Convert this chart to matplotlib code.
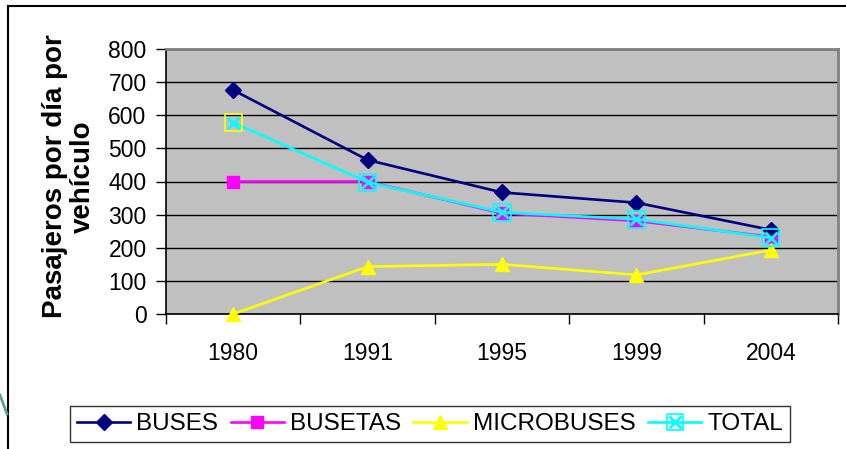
import matplotlib
matplotlib.use("Agg")
import matplotlib.pyplot as plt
from matplotlib.lines import Line2D
import numpy as np

plt.rcParams['font.family'] = ['Liberation Sans', 'DejaVu Sans']

years = ["1980", "1991", "1995", "1999", "2004"]
buses = [676, 465, 367, 336, 254]
busetas = [400, 400, 304, 281, 233]
microbuses = [0, 143, 150, 118, 193]
total = [578, 398, 307, 286, 230]
total_box_edges = ["#FFFF00", "#00FFFF", "#00FFFF", "#00FFFF", "#00FFFF"]
yticks = [0, 100, 200, 300, 400, 500, 600, 700, 800]

fig = plt.figure(figsize=(8.46, 4.49), dpi=100)
ax = fig.add_axes([166/846, 1-314/449, (838-166)/846, (314-49)/449])
ax.set_facecolor("#C0C0C0")

x = np.arange(len(years))
ax.plot(x, buses, color="#000080", lw=1.9, marker="D", ms=8, label="BUSES", zorder=5)
ax.plot(x, busetas, color="#FF00FF", lw=1.9, marker="s", ms=8, label="BUSETAS", zorder=4)
ax.plot(x, microbuses, color="#FFFF00", lw=1.9, marker="^", ms=10, label="MICROBUSES", zorder=4, clip_on=False)
ax.plot(x, total, color="#00FFFF", lw=1.9, marker="x", ms=9, mew=2, label="_nolegend_", zorder=6)
ax.scatter(x, total, s=150, marker="s", facecolors="none", edgecolors=total_box_edges, linewidths=1.2, zorder=7)

ax.set_xlim(-0.5, len(years) - 0.5)
ax.set_ylim(0, 800)
ax.set_yticks(yticks)
ax.set_yticklabels([str(v) for v in yticks], fontsize=16.5)
ax.set_xticks(x)
ax.set_xticklabels(years, fontsize=16.5)
ax.set_xticks(np.arange(len(years) + 1) - 0.5, minor=True)
ax.tick_params(axis="x", which="major", length=0, pad=20)
ax.tick_params(axis="x", which="minor", length=7, direction="out", width=1)
ax.tick_params(axis="y", length=7, direction="out", width=1, pad=7)
ax.yaxis.grid(True, color="black", lw=1)
ax.set_axisbelow(True)

for s in ["top", "right"]:
    ax.spines[s].set_color("#808080")
    ax.spines[s].set_linewidth(2)
for s in ["left", "bottom"]:
    ax.spines[s].set_color("black")
    ax.spines[s].set_linewidth(1.2)

ax.set_ylabel("Pasajeros por día por\nvehículo", fontsize=20, fontweight="bold", linespacing=1.1)
ax.yaxis.label.set_va("center")
ax.yaxis.set_label_coords((68.5 - 166) / 672, (314 - 176.5) / 265)

handles = [
    Line2D([], [], color="#000080", lw=1.9, marker="D", ms=8),
    Line2D([], [], color="#FF00FF", lw=1.9, marker="s", ms=8),
    Line2D([], [], color="#FFFF00", lw=1.9, marker="^", ms=10),
    (Line2D([], [], color="#00FFFF", lw=1.9, marker="s", ms=11, mfc="none", mec="#00FFFF", mew=1.2),
     Line2D([], [], color="#00FFFF", lw=0, marker="x", ms=9, mew=2)),
]
leg = fig.legend(handles, ["BUSES", "BUSETAS", "MICROBUSES", "TOTAL"], loc="center",
                 bbox_to_anchor=(430/846, 1-424/449), ncol=4, fontsize=17.5, frameon=True,
                 fancybox=False, edgecolor="black", handlelength=2.2, handletextpad=0.25,
                 columnspacing=0.5, borderpad=0.3, borderaxespad=0)
leg.get_frame().set_linewidth(1.0)

# outer frame
fig.add_artist(Line2D([8/846, 1.0], [1-6/449, 1-6/449], color="black", lw=1.5, transform=fig.transFigure))
fig.add_artist(Line2D([8/846, 8/846], [1-6/449, 0.0], color="black", lw=1.5, transform=fig.transFigure))
fig.add_artist(Line2D([0.0, 7/846], [1-395/449, 1-414/449], color="#5F9EA0", lw=2, transform=fig.transFigure))

fig.savefig("out.png", dpi=100)
